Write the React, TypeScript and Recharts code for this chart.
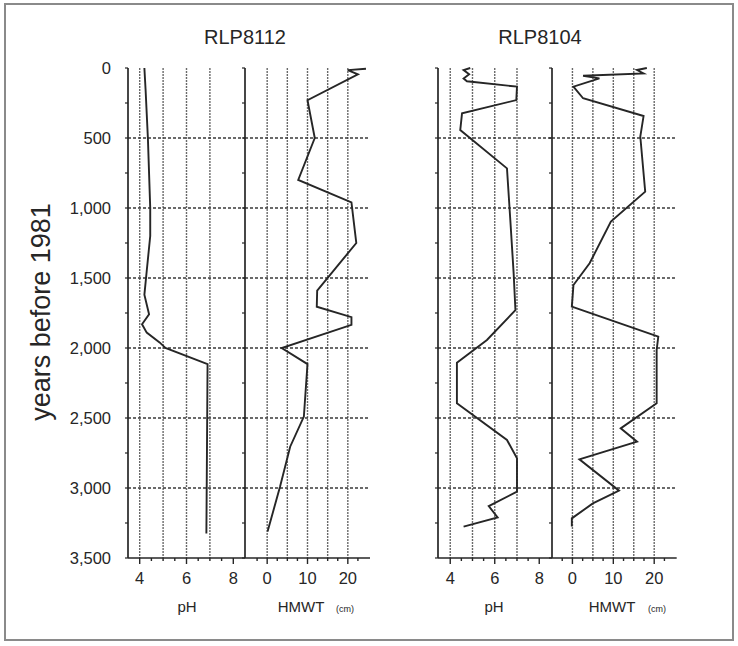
import React from "react";
import { LineChart, Line, XAxis, YAxis, CartesianGrid } from "recharts";

// ─── Data ─────────────────────────────────────────────────────────────────────
const YEAR_TICKS = [0, 250, 500, 750, 1000, 1250, 1500, 1750, 2000, 2250, 2500, 2750, 3000, 3250, 3500];
const YEAR_GRID = [500, 1000, 1500, 2000, 2500, 3000];
const PH_TICKS = [4, 4.5, 5, 5.5, 6, 6.5, 7, 7.5, 8];
const PH_LABELS = [4, 6, 8];
const PH_GRID = [4, 5, 6, 7];
const HMWT_TICKS = [-2.5, 0, 2.5, 5, 7.5, 10, 12.5, 15, 17.5, 20, 22.5];
const HMWT_LABELS = [0, 10, 20];
const HMWT_GRID = [0, 5, 10, 15, 20];

const rlp8112PhYears = [0, 150, 500, 1000, 1200, 1450, 1620, 1760, 1830, 1890, 1960, 2000, 2115, 3325];
const rlp8112Ph = [4.2, 4.25, 4.35, 4.45, 4.45, 4.3, 4.2, 4.4, 4.1, 4.3, 4.85, 5.1, 6.9, 6.85];

const rlp8112HmwtYears = [5, 15, 45, 230, 500, 800, 960, 1250, 1590, 1705, 1780, 1835, 2000, 2115, 2490, 2705, 2990, 3310];
const rlp8112Hmwt = [24.5, 20, 22.5, 10, 11.8, 7.7, 20.9, 22.1, 12.4, 12.3, 20.9, 20.9, 3.6, 10, 9.1, 5.7, 3.2, 0.1];

const rlp8104PhYears = [0, 15, 45, 75, 95, 133, 229, 324, 443, 717, 1086, 1467, 1729, 1943, 2105, 2395, 2657, 2788, 3026, 3129, 3210, 3276];
const rlp8104Ph = [4.9, 4.6, 4.85, 4.6, 4.75, 7.0, 6.97, 4.53, 4.45, 6.55, 6.7, 6.85, 6.93, 5.65, 4.3, 4.3, 6.55, 7.0, 7.0, 5.73, 6.13, 4.6];

const rlp8104HmwtYears = [0, 14, 38, 55, 74, 133, 216, 343, 490, 883, 1097, 1395, 1550, 1705, 1919, 2014, 2395, 2574, 2669, 2795, 3019, 3110, 3217, 3276];
const rlp8104Hmwt = [18.2, 15.8, 17.4, 2.6, 6.6, 0.25, 2.6, 17.4, 16.6, 17.8, 9.4, 4.2, 0.25, -0.15, 21, 20.6, 20.6, 11.8, 15.8, 1.7, 11.4, 5.0, -0.15, -0.15];

// ─── Styles ───────────────────────────────────────────────────────────────────
const FONT = "'Liberation Sans', Arial, sans-serif";
const INK = "#262626";
const AXIS_Y = 558;
const PLOT_TOP = 68;
const CHART_H = 646;
const X_AXIS_H = 40;

const toRows = (years: number[], vals: number[]) => years.map((year, i) => ({ year, v: vals[i] }));

const fmtYear = (v: number) => v.toLocaleString("en-US");

function makeXTick(labels: number[]) {
  return (props: any) => {
    const { x, y, payload } = props;
    const major = labels.includes(payload.value);
    return (
      <g>
        <line x1={x} x2={x} y1={y} y2={y + (major ? 6 : 3)} stroke={INK} strokeWidth={1.4} />
        {major && (
          <text x={x} y={y + 26} textAnchor="middle" fontSize={16.5} fill={INK} fontFamily={FONT}>
            {payload.value}
          </text>
        )}
      </g>
    );
  };
}

function makeYTick(showLabels: boolean) {
  return (props: any) => {
    const { x, y, payload } = props;
    return (
      <g>
        <line x1={x - 3} x2={x} y1={y} y2={y} stroke={INK} strokeWidth={1.2} />
        {showLabels && payload.value % 500 === 0 && (
          <text x={x - 17} y={y} dy="0.36em" textAnchor="end" fontSize={16.5} fill={INK} fontFamily={FONT}>
            {fmtYear(payload.value)}
          </text>
        )}
      </g>
    );
  };
}

interface PanelProps {
  left: number;
  width: number;
  yAxisWidth: number;
  rows: { year: number; v: number }[];
  domain: [number, number];
  ticks: number[];
  labels: number[];
  grid: number[];
  showYLabels: boolean;
}

function Panel({ left, width, yAxisWidth, rows, domain, ticks, labels, grid, showYLabels }: PanelProps) {
  return (
    <div style={{ position: "absolute", left, top: 0 }}>
      <LineChart
        layout="vertical"
        width={width}
        height={CHART_H}
        data={rows}
        margin={{ top: PLOT_TOP, right: 0, bottom: CHART_H - AXIS_Y - X_AXIS_H, left: 0 }}
      >
        <CartesianGrid
          horizontal={false}
          verticalValues={grid}
          stroke="#6a6a6a"
          strokeDasharray="2 1"
          strokeWidth={1.4}
        />
        <CartesianGrid
          vertical={false}
          horizontalValues={YEAR_GRID}
          stroke="#3a3a3a"
          strokeDasharray="3 2"
          strokeWidth={1.4}
        />
        <XAxis
          type="number"
          domain={domain}
          ticks={ticks}
          allowDataOverflow
          height={X_AXIS_H}
          tickSize={0}
          tickMargin={0}
          tickLine={false}
          tick={makeXTick(labels)}
          stroke={INK}
          strokeWidth={1.7}
          interval={0}
        />
        <YAxis
          type="number"
          dataKey="year"
          domain={[0, 3500]}
          ticks={YEAR_TICKS}
          width={yAxisWidth}
          tickSize={0}
          tickMargin={0}
          tickLine={false}
          tick={makeYTick(showYLabels)}
          stroke={INK}
          strokeWidth={1.7}
          interval={0}
        />
        <Line
          type="linear"
          dataKey="v"
          stroke={INK}
          strokeWidth={1.9}
          dot={false}
          isAnimationActive={false}
        />
      </LineChart>
    </div>
  );
}

export default function App() {
  return (
    <div
      style={{
        position: "absolute",
        left: 0,
        top: 0,
        width: 738,
        height: 646,
        background: "#fff",
        fontFamily: FONT,
      }}
    >
      <Panel
        left={60}
        width={185}
        yAxisWidth={68}
        rows={toRows(rlp8112PhYears, rlp8112Ph)}
        domain={[3.5, 8.5]}
        ticks={PH_TICKS}
        labels={PH_LABELS}
        grid={PH_GRID}
        showYLabels
      />
      <Panel
        left={235}
        width={135}
        yAxisWidth={10}
        rows={toRows(rlp8112HmwtYears, rlp8112Hmwt)}
        domain={[-5.5, 25.5]}
        ticks={HMWT_TICKS}
        labels={HMWT_LABELS}
        grid={HMWT_GRID}
        showYLabels={false}
      />
      <Panel
        left={377.7}
        width={174.6}
        yAxisWidth={60}
        rows={toRows(rlp8104PhYears, rlp8104Ph)}
        domain={[3.45, 8.6]}
        ticks={PH_TICKS}
        labels={PH_LABELS}
        grid={PH_GRID}
        showYLabels={false}
      />
      <Panel
        left={542.3}
        width={134.7}
        yAxisWidth={10}
        rows={toRows(rlp8104HmwtYears, rlp8104Hmwt)}
        domain={[-5, 25.5]}
        ticks={HMWT_TICKS}
        labels={HMWT_LABELS}
        grid={HMWT_GRID}
        showYLabels={false}
      />

      {/* frame, titles and axis captions */}
      <svg width={738} height={646} style={{ position: "absolute", left: 0, top: 0, pointerEvents: "none" }}>
        <rect x={5} y={4} width={728} height={636} fill="none" stroke="#8a8a8a" strokeWidth={2} />
        <text x={245} y={44} textAnchor="middle" fontSize={20} fill={INK} fontFamily={FONT}>
          RLP8112
        </text>
        <text x={540} y={44} textAnchor="middle" fontSize={20} fill={INK} fontFamily={FONT}>
          RLP8104
        </text>
        <text
          x={41}
          y={312}
          textAnchor="middle"
          fontSize={27}
          fill={INK}
          fontFamily={FONT}
          transform="rotate(-90 41 312)"
          dominantBaseline="central"
        >
          years before 1981
        </text>
        <text x={187} y={612} textAnchor="middle" fontSize={15} fill={INK} fontFamily={FONT}>
          pH
        </text>
        <text x={494} y={612} textAnchor="middle" fontSize={15} fill={INK} fontFamily={FONT}>
          pH
        </text>
        <text x={301} y={612} textAnchor="middle" fontSize={15} fill={INK} fontFamily={FONT}>
          HMWT
        </text>
        <text x={345} y={612} textAnchor="middle" fontSize={9} fill={INK} fontFamily={FONT}>
          (cm)
        </text>
        <text x={612} y={612} textAnchor="middle" fontSize={15} fill={INK} fontFamily={FONT}>
          HMWT
        </text>
        <text x={657} y={612} textAnchor="middle" fontSize={9} fill={INK} fontFamily={FONT}>
          (cm)
        </text>
      </svg>
    </div>
  );
}
